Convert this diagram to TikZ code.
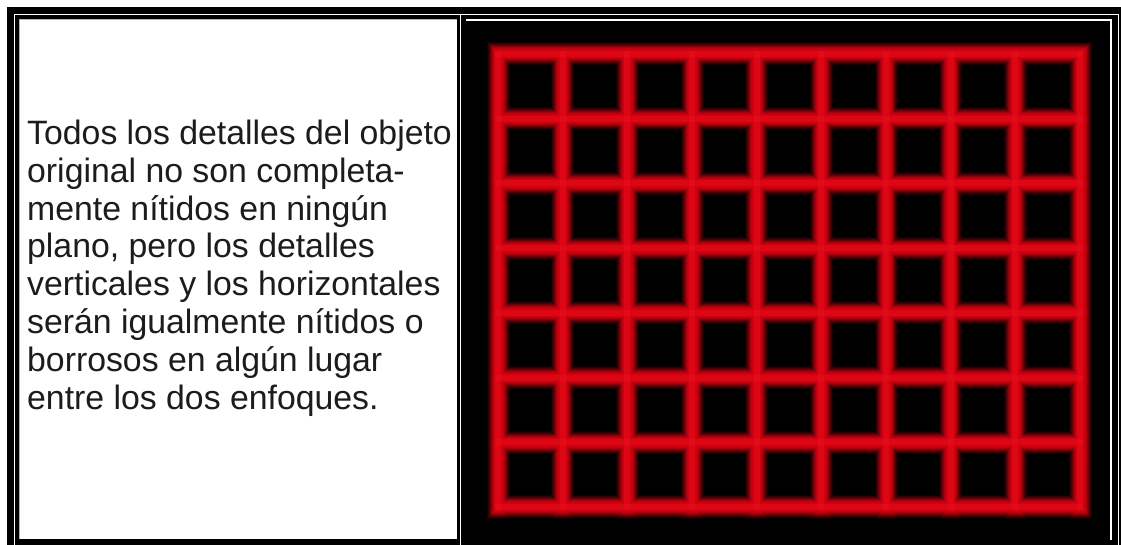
\documentclass[tikz,border=0pt]{standalone}
\usepackage{fontspec}
\setmainfont{Liberation Sans}
\usepackage{tikz}
\usetikzlibrary{positioning,calc}
\definecolor{rojo}{RGB}{210,0,15}
\definecolor{rojoclaro}{RGB}{255,25,40}
\definecolor{letra}{RGB}{28,28,28}
\tikzstyle{filo} = [white, line width=1.3pt]
\tikzstyle{texto} = [anchor=north west, inner sep=0pt, align=left, text=letra, font=\fontsize{33.8}{37.9}\selectfont]
% una capa de la rejilla: ancho y color
\newcommand{\capa}[2]{%
  \foreach \i in {0,...,9}
    \draw[line width=#1, color=#2, line cap=rect] (498+64.67*\i,54) -- (498+64.67*\i,507);
  \foreach \j in {0,...,7}
    \draw[line width=#1, color=#2, line cap=rect] (498,54+64.71*\j) -- (1080,54+64.71*\j);
}

\begin{document}
\begin{tikzpicture}[x=1pt,y=-1pt]
			\useasboundingbox (0,0) rectangle (1121,545);
			\fill[white] (0,0) rectangle (1121,545);
			
			% marco
			\fill[black] (7,7) rectangle (1121,545);
			\draw[filo] (14.5,545) |- (1118.7,14.7) -- (1118.7,545);
			\draw[filo] (460.2,14.7) -- (460.2,545);
			\fill[white] (19,19) rectangle (457,539);
			\draw[gray!60, line width=1pt] (19.5,539) |- (457,19.5);
			\draw[filo] (466,20) -| (1111,540);
			
			\node[texto] (parrafo) at (27,119.6) {Todos los detalles del objeto\\
				original no son completa-\\
				mente nítidos en ningún\\
				plano, pero los detalles\\
				verticales y los horizontales\\
				serán igualmente nítidos o\\
				borrosos en algún lugar\\
				entre los dos enfoques.};
			
			% rejilla borrosa
			\foreach \w/\p in {23/10,21/22,19/36,17/50,15/65,13/79,11/90,9/97,7/100}
				{\capa{\w pt}{rojo!\p!black}}
			\begin{scope}[opacity=0.25]
				\capa{6pt}{rojoclaro}
			\end{scope}
		\end{tikzpicture}
\end{document}
